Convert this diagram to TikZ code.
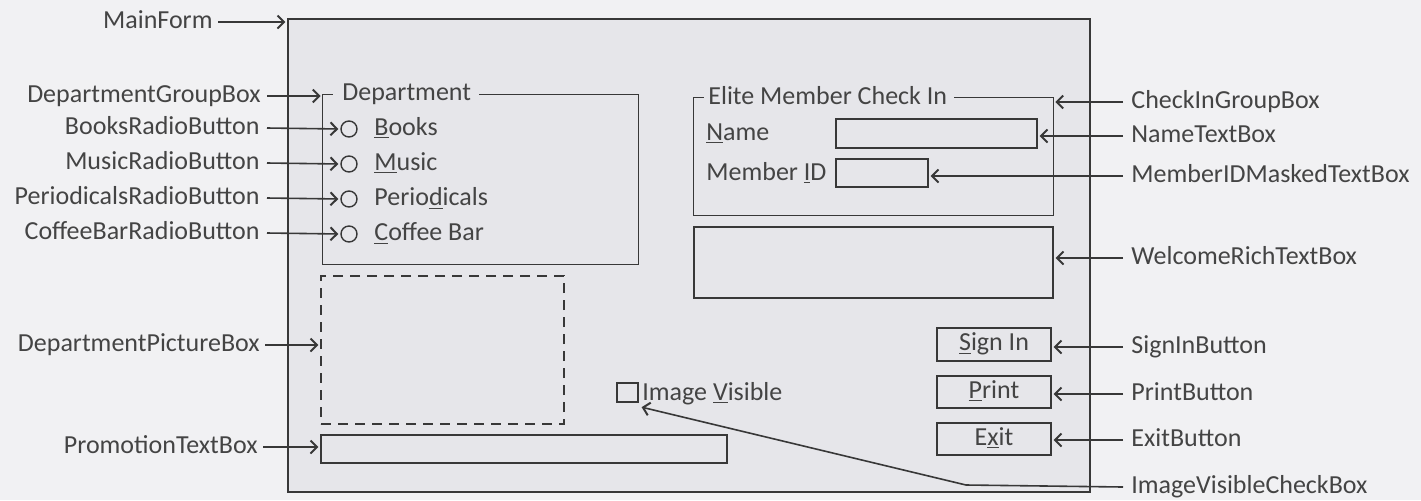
\documentclass[tikz,border=0pt]{standalone}
\usepackage{fontspec}
\setmainfont{Carlito}
\usetikzlibrary{arrows.meta,fit,calc}
\definecolor{bgc}{HTML}{F1F1F3}
\definecolor{formc}{HTML}{E6E6EA}
\definecolor{linec}{HTML}{383838}
\definecolor{txtc}{HTML}{444444}
\newcommand\mn[1]{\underline{#1}}
\tikzset{
  lbl/.style={inner sep=0pt, text=txtc, font=\fontsize{13}{15}\selectfont, text height=8.4pt, text depth=2.4pt},
  conn/.style={draw=linec, line width=0.8pt, -{Straight Barb[length=3.2pt,width=6.5pt,line width=1pt]}, shorten >=1pt},
  ctl/.style={draw=linec, line width=0.7pt, inner sep=0pt},
  grpline/.style={draw=linec, line width=0.7pt},
  radio/.style={circle, draw=linec, line width=0.7pt, minimum size=8pt, inner sep=0pt},
}
\begin{document}
\begin{tikzpicture}[x=0.5pt,y=-0.5pt]
\useasboundingbox (0,0) rectangle (1421,500);
\fill[bgc] (0,0) rectangle (1421,500);

% main form
\node[ctl, fill=formc, fit={(288,19) (1090,492)}] (mainform) {};

% department group
\node[inner sep=0pt, fit={(323,95) (638,264)}] (deptgrp) {};
\node[lbl, anchor=west] (depttitle) at (342,94) {Department};
\draw[grpline] ([shift={(10,0)}]deptgrp.north west) -- (deptgrp.north west) -- (deptgrp.south west)
  -- (deptgrp.south east) -- (deptgrp.north east) -- ($(depttitle.east |- deptgrp.north)+(8,0)$);

\node[radio] (booksrb) at (349,129) {};
\node[radio] (musicrb) at (349,164) {};
\node[radio] (perrb) at (349,199) {};
\node[radio] (coffrb) at (349,234) {};
\node[lbl, anchor=west] (bookstxt) at (374,129) {\mn{B}ooks};
\node[lbl, anchor=west] (musictxt) at (374,164) {\mn{M}usic};
\node[lbl, anchor=west] (pertxt) at (374,199) {Perio\mn{d}icals};
\node[lbl, anchor=west] (cofftxt) at (374,234) {\mn{C}offee Bar};

% picture box, promotion
\node[ctl, dashed, dash pattern=on 5pt off 3.5pt, fit={(321,276) (564,424)}] (picbox) {};
\node[ctl, fit={(321,435) (727,463)}] (promo) {};

% image visible check box
\node[ctl, fit={(617,383) (638,402)}] (chk) {};
\node[lbl, anchor=west] (chktxt) at (642,394) {Image \mn{V}isible};

% check in group
\node[inner sep=0pt, fit={(694,98) (1053,215)}] (checkin) {};
\node[lbl, anchor=west] (citxt) at (708,98) {Elite Member Check In};
\draw[grpline] ([shift={(10,0)}]checkin.north west) -- (checkin.north west) -- (checkin.south west)
  -- (checkin.south east) -- (checkin.north east) -- ($(citxt.east |- checkin.north)+(6,0)$);
\node[lbl, anchor=west] (nametxt) at (706,134) {\mn{N}ame};
\node[lbl, anchor=west] (midtxt) at (706,174) {Member \mn{I}D};
\node[ctl, fit={(836,119) (1037,148)}] (nametb) {};
\node[ctl, fit={(836,159) (928,187)}] (midtb) {};

% welcome
\node[ctl, fit={(694,227) (1053,298)}] (welcome) {};

% buttons
\node[ctl, fit={(937,328) (1051,361)}] (signin) {};
\node[lbl] (signintxt) at (signin.center) {\mn{S}ign In};
\node[ctl, fit={(937,376) (1051,408)}] (print) {};
\node[lbl] (printtxt) at (print.center) {\mn{P}rint};
\node[ctl, fit={(937,423) (1051,455)}] (exitb) {};
\node[lbl] (exittxt) at (exitb.center) {E\mn{x}it};

% left labels
\node[lbl, anchor=east] (lmain) at (213,22) {MainForm};
\node[lbl, anchor=east] (ldept) at (261,96) {DepartmentGroupBox};
\node[lbl, anchor=east] (lbooks) at (260,128) {BooksRadioButton};
\node[lbl, anchor=east] (lmusic) at (260,163) {MusicRadioButton};
\node[lbl, anchor=east] (lper) at (260,198) {PeriodicalsRadioButton};
\node[lbl, anchor=east] (lcoff) at (260,233) {CoffeeBarRadioButton};
\node[lbl, anchor=east] (lpic) at (260,345) {DepartmentPictureBox};
\node[lbl, anchor=east] (lpromo) at (258,447) {PromotionTextBox};

% right labels
\node[lbl, anchor=west] (rci) at (1131,102) {CheckInGroupBox};
\node[lbl, anchor=west] (rname) at (1131,136) {NameTextBox};
\node[lbl, anchor=west] (rmid) at (1131,176) {MemberIDMaskedTextBox};
\node[lbl, anchor=west] (rwel) at (1131,258) {WelcomeRichTextBox};
\node[lbl, anchor=west] (rsign) at (1131,347) {SignInButton};
\node[lbl, anchor=west] (rprint) at (1131,394) {PrintButton};
\node[lbl, anchor=west] (rexit) at (1131,440) {ExitButton};
\node[lbl, anchor=west] (rimg) at (1131,487) {ImageVisibleCheckBox};

% left connectors
\draw[conn] ([shift={(5,0)}]lmain.east) -- (lmain.east -| mainform.west);
\draw[conn] ([shift={(6,0)}]ldept.east) -- (ldept.east -| deptgrp.west);
\draw[conn] ([shift={(7,0)}]lbooks.east) -- (booksrb.west);
\draw[conn] ([shift={(7,0)}]lmusic.east) -- (musicrb.west);
\draw[conn] ([shift={(7,0)}]lper.east) -- (perrb.west);
\draw[conn] ([shift={(7,0)}]lcoff.east) -- (coffrb.west);
\draw[conn] ([shift={(5,0)}]lpic.east) -- (lpic.east -| picbox.west);
\draw[conn] ([shift={(5,0)}]lpromo.east) -- (lpromo.east -| promo.west);

% right connectors
\draw[conn] ([shift={(-8,0)}]rci.west) -- (rci.west -| checkin.east);
\draw[conn] ([shift={(-8,0)}]rname.west) -- (rname.west -| nametb.east);
\draw[conn] ([shift={(-8,0)}]rmid.west) -- (rmid.west -| midtb.east);
\draw[conn] ([shift={(-8,0)}]rwel.west) -- (rwel.west -| welcome.east);
\draw[conn] ([shift={(-8,0)}]rsign.west) -- (rsign.west -| signin.east);
\draw[conn] ([shift={(-8,0)}]rprint.west) -- (rprint.west -| print.east);
\draw[conn] ([shift={(-8,0)}]rexit.west) -- (rexit.west -| exitb.east);
\coordinate (imgbend) at (966,485);
\draw[conn] ([shift={(-8,0)}]rimg.west) -- (imgbend) -- ([shift={(1,4)}]chk.south east);
\end{tikzpicture}
\end{document}
